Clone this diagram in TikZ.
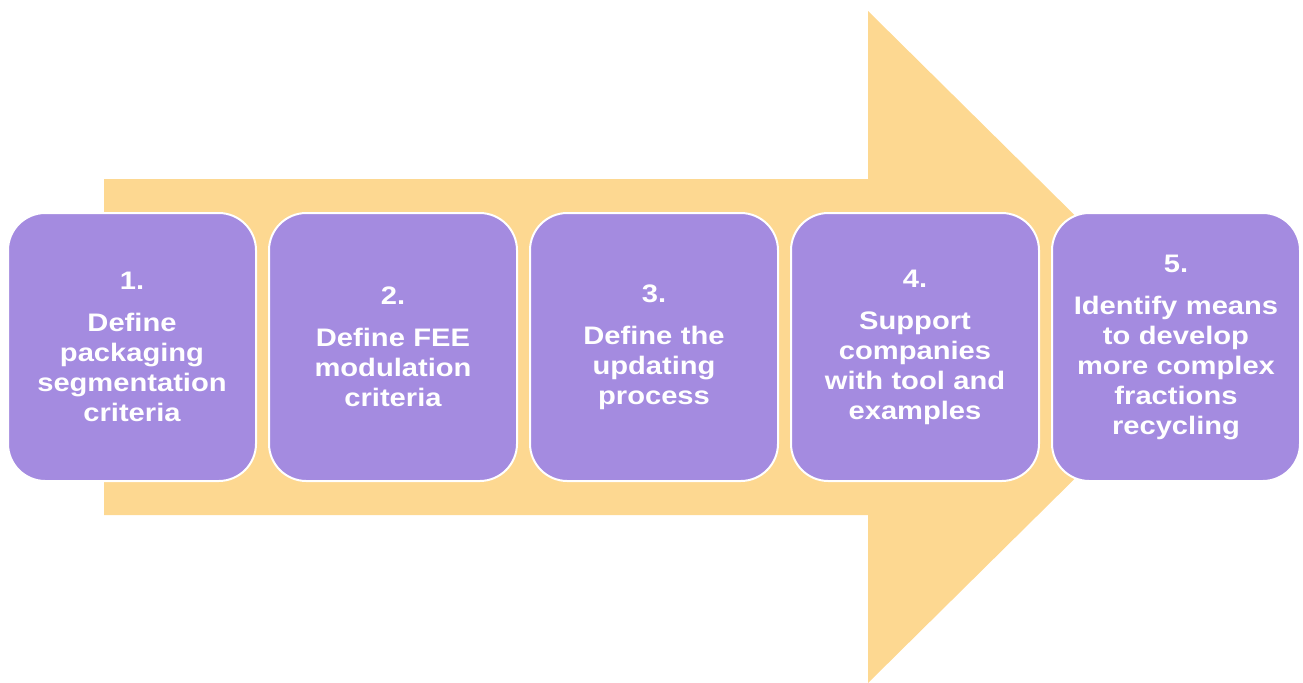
\documentclass[tikz,border=0pt]{standalone}
\usepackage{fontspec}
\setmainfont{Liberation Sans}[FakeStretch=1.15]
\definecolor{arrowfill}{HTML}{FDD891}
\definecolor{stepfill}{HTML}{A48BE0}
\begin{document}
\begin{tikzpicture}[x=0.75pt,y=-0.75pt,
  stepbox/.style={draw=white, line width=1.5pt, fill=stepfill,
    rounded corners=28pt, minimum width=186pt, minimum height=201pt,
    text width=176pt, align=center, text=white, inner sep=0pt,
    font=\bfseries\fontsize{19}{22.5}\selectfont}]
\useasboundingbox (0,0) rectangle (1303,682);
% large background arrow
\fill[arrowfill] (104,179) -- (868,179) -- (868,11) -- (1208,347)
  -- (868,683) -- (868,515) -- (104,515) -- cycle;
% process steps
\node[stepbox] (s1) at (132,347) {1.\\[9pt]Define\\packaging\\segmentation\\criteria};
\node[stepbox] (s2) at (393,347) {2.\\[9pt]Define FEE\\modulation\\criteria};
\node[stepbox] (s3) at (654,347) {3.\\[9pt]Define the\\updating\\process};
\node[stepbox] (s4) at (915,347) {4.\\[9pt]Support\\companies\\with tool and\\examples};
\node[stepbox] (s5) at (1176,347) {5.\\[9pt]Identify means\\to develop\\more complex\\fractions\\recycling};
\end{tikzpicture}
\end{document}
